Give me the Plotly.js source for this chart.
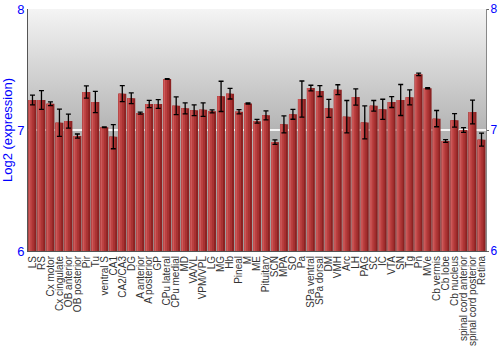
<!DOCTYPE html>
<html><head><meta charset="utf-8">
<script src="https://cdn.plot.ly/plotly-3.0.1.min.js"></script>
<style>html,body{margin:0;padding:0;background:#fff}#chart{width:500px;height:350px}</style>
</head><body><div id="chart"></div>
<script>
var regions = ["LS","RS","Cx motor","Cx cingulate","OB anterior","OB posterior","Pir","Tu","ventral S","CA1","CA2/CA3","DG","A anterior","A posterior","GP","CPu lateral","CPu medial","MD","VA/VL","VPM/VPL","LG","MG","Hb","Pineal","M","ME","Pituitary","SCN","MPA","SO","Pa","SPa ventral","SPa dorsal","DM","VMH","Arc","LH","PAG","SC","IC","VTA","SN","Tg","Pn","MVe","Cb vermis","Cb lobe","Cb nucleus","spinal cord anterior","spinal cord posterior","Retina"];
var expression = [7.248,7.248,7.217,7.06,7.074,6.95,7.314,7.231,7.022,6.945,7.30,7.262,7.14,7.215,7.215,7.421,7.20,7.179,7.163,7.168,7.154,7.278,7.30,7.151,7.22,7.072,7.121,6.90,7.047,7.13,7.256,7.347,7.322,7.179,7.333,7.11,7.273,7.063,7.20,7.171,7.231,7.248,7.27,7.46,7.345,7.094,6.909,7.08,7.0,7.149,6.92];
var stderr = [0.04,0.077,0.015,0.113,0.058,0.017,0.05,0.088,0.003,0.1,0.066,0.044,0.008,0.03,0.036,0.003,0.073,0.045,0.044,0.056,0.012,0.125,0.044,0.018,0.005,0.015,0.037,0.018,0.07,0.041,0.149,0.023,0.045,0.074,0.041,0.134,0.067,0.136,0.044,0.083,0.045,0.128,0.062,0.01,0.004,0.067,0.011,0.056,0.02,0.098,0.054];
var yTicks = [6,7,8];
var baseLevel = 6;

var heights = expression.map(function(v){return v - baseLevel;});
function layer(width, offset, color, withErr){
  var t = {type:'bar', x:regions, y:heights, base:baseLevel, width:width, offset:offset,
    marker:{color:color, line:{width:0}}, hoverinfo:'skip', showlegend:false};
  if(withErr){ t.error_y = {type:'data', array:stderr, visible:true, color:'#000', thickness:1.3, width:2.5}; }
  return t;
}
var traces = [
  layer(0.88,-0.44,'#8c2222',false),
  layer(0.66,-0.44,'#a83232',false),
  layer(0.42,-0.44,'#bb4040',false),
  layer(0.16,-0.40,'#cc5a5a',false),
  layer(0.88,-0.44,'rgba(0,0,0,0)',true),
  {type:'scatter', x:[regions[0]], y:[baseLevel], yaxis:'y2', mode:'markers', marker:{opacity:0}, hoverinfo:'skip', showlegend:false}
];
var svg = '<svg xmlns="http://www.w3.org/2000/svg" width="100" height="100" preserveAspectRatio="none"><defs><linearGradient id="g" x1="0" y1="0" x2="0" y2="1"><stop offset="0" stop-color="#f4f4f4"/><stop offset="0.5" stop-color="#b4b4b4"/><stop offset="1" stop-color="#9c9c9c"/></linearGradient></defs><rect width="100" height="100" fill="url(#g)"/></svg>';
var layout = {
  width:500, height:350,
  margin:{l:28, r:14, t:9, b:99},
  paper_bgcolor:'#fff', plot_bgcolor:'rgba(0,0,0,0)',
  barmode:'overlay', bargap:0.12,
  font:{family:'Liberation Sans, Arial, sans-serif', size:10, color:'#333'},
  images:[{source:'data:image/svg+xml;charset=utf-8,'+encodeURIComponent(svg), xref:'paper', yref:'paper', x:0, y:1, sizex:1, sizey:1, sizing:'stretch', layer:'below', xanchor:'left', yanchor:'top'}],
  xaxis:{type:'category', tickmode:'array', tickvals:regions, ticktext:regions, tickangle:-90, tickfont:{size:10, color:'#333'}, showgrid:false, showline:true, linecolor:'#555', ticks:'', automargin:false, range:[-0.5, regions.length-0.5]},
  yaxis:{range:[6,8], tickvals:yTicks, ticktext:yTicks.map(String), tickfont:{size:13, color:'#0000ff'}, showgrid:true, gridcolor:'#f4f4f4', gridwidth:1.5, zeroline:false,
    showline:true, linecolor:'#555', mirror:true, ticks:'', title:{text:'Log2 (expression)', font:{size:13, color:'#0000ff'}, standoff:2}, automargin:false},
  yaxis2:{range:[6,8], overlaying:'y', side:'right', tickvals:yTicks, tickfont:{size:12, color:'#0000ff'}, showgrid:false, zeroline:false, showline:true, linecolor:'#888', ticks:'outside', ticklen:2, tickcolor:'#666', ticklabelstandoff:-1, automargin:false}
};
Plotly.newPlot('chart', traces, layout, {staticPlot:true, displayModeBar:false});
</script></body></html>
